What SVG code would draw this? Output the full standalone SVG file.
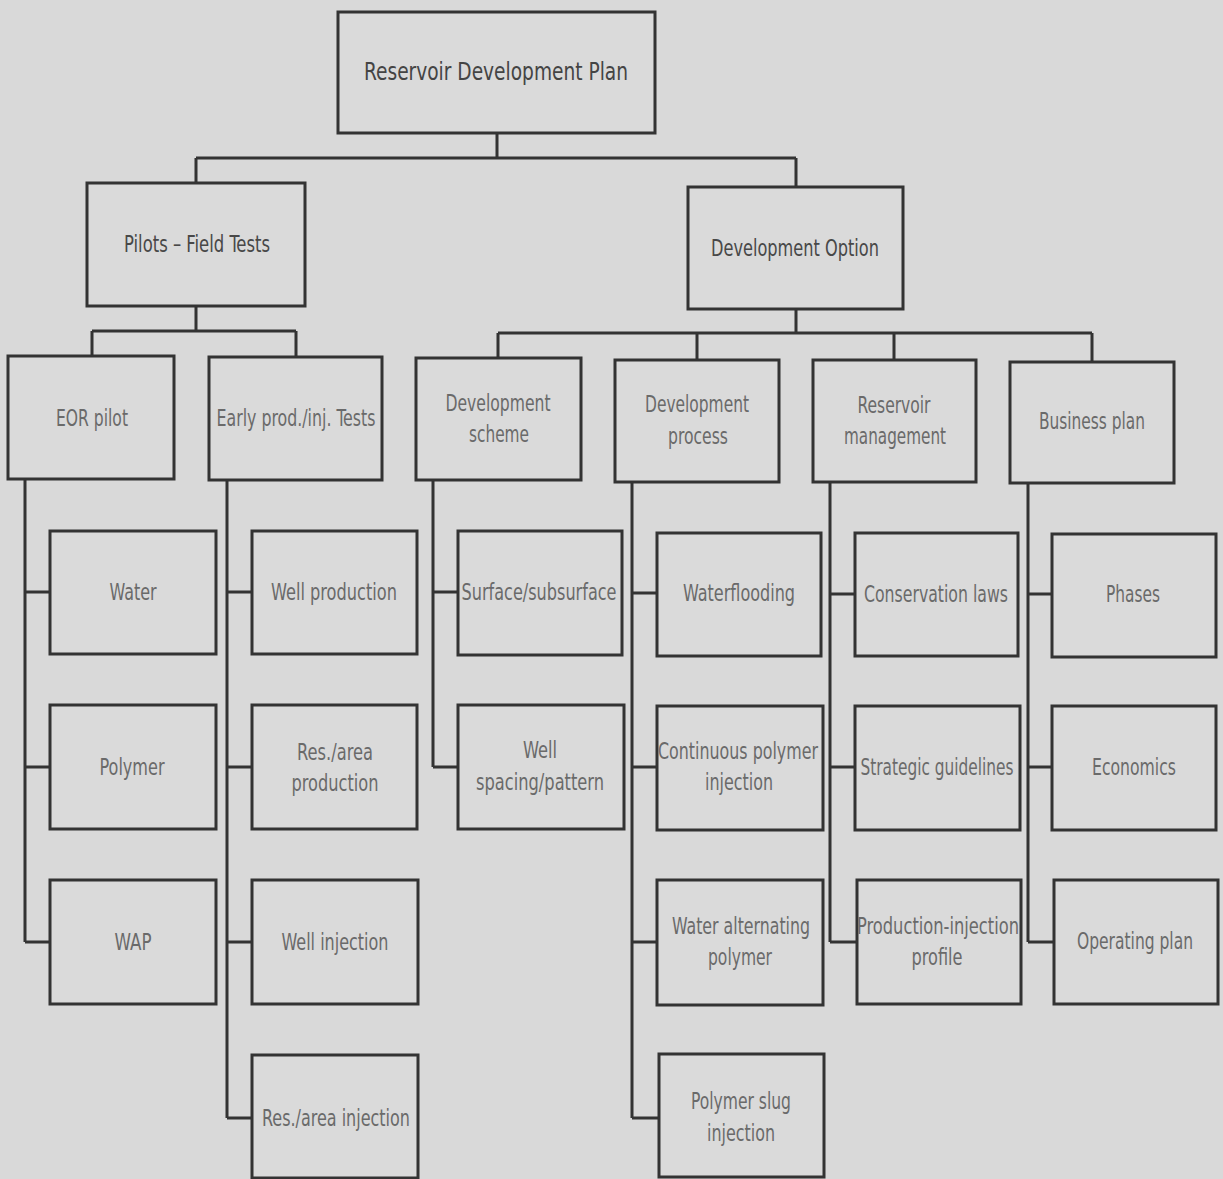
<svg xmlns="http://www.w3.org/2000/svg" width="1223" height="1179" viewBox="0 0 1223 1179">
<style>
.bg{fill:#d9d9d9}
.box{fill:#dadada;stroke:#333;stroke-width:3}
.conn{fill:none;stroke:#333;stroke-width:3}
text{font-family:"DejaVu Sans Condensed","Liberation Sans Narrow","Liberation Sans",sans-serif;font-size:23px;fill:#6a6a6a;text-anchor:middle;dominant-baseline:central}
.top{fill:#444;font-size:24px}
.l1{fill:#484848;font-size:23px}
</style>
<rect class="bg" x="0" y="0" width="1223" height="1179"/>
<g id="connectors">
<path class="conn" d="M497 133V158M196 158H796M196 158V183M796 158V187"/>
<path class="conn" d="M196 306V331M92 331H296M92 331V357M296 331V357"/>
<path class="conn" d="M796 309V333M498 333H1092M498 333V358M697 333V360M894 333V360M1092 333V362"/>
<path class="conn" d="M25 479V942M25 592H50M25 767H50M25 942H50"/>
<path class="conn" d="M227 480V1118M227 592H252M227 767H252M227 942H252M227 1118H252"/>
<path class="conn" d="M433 480V767M433 592H458M433 767H458"/>
<path class="conn" d="M632 482V1118M632 593H657M632 767H657M632 942H657M632 1118H659"/>
<path class="conn" d="M830 482V942M830 594H855M830 767H855M830 942H857"/>
<path class="conn" d="M1028 483V942M1028 594H1052M1028 767H1052M1028 942H1054"/>
</g>
<g id="root"><rect class="box" x="338" y="12" width="317" height="121"/><text class="top" x="496" y="72" textLength="264" lengthAdjust="spacingAndGlyphs">Reservoir Development Plan</text></g>
<g id="pilots"><rect class="box" x="87" y="183" width="218" height="123"/><text class="l1" x="197" y="244" textLength="146" lengthAdjust="spacingAndGlyphs">Pilots – Field Tests</text></g>
<g id="devoption"><rect class="box" x="688" y="187" width="215" height="122"/><text class="l1" x="795" y="248" textLength="168" lengthAdjust="spacingAndGlyphs">Development Option</text></g>
<g id="eor"><rect class="box" x="8" y="356" width="166" height="123"/><text x="92" y="418" textLength="72" lengthAdjust="spacingAndGlyphs">EOR pilot</text></g>
<g id="early"><rect class="box" x="209" y="357" width="173" height="123"/><text x="296" y="418" textLength="159" lengthAdjust="spacingAndGlyphs">Early prod./inj. Tests</text></g>
<g id="devscheme"><rect class="box" x="416" y="358" width="165" height="122"/><text x="498" y="403" textLength="105" lengthAdjust="spacingAndGlyphs">Development</text><text x="499" y="434" textLength="60" lengthAdjust="spacingAndGlyphs">scheme</text></g>
<g id="devprocess"><rect class="box" x="615" y="360" width="164" height="122"/><text x="697" y="404" textLength="104" lengthAdjust="spacingAndGlyphs">Development</text><text x="698" y="436" textLength="60" lengthAdjust="spacingAndGlyphs">process</text></g>
<g id="resmgmt"><rect class="box" x="813" y="360" width="163" height="122"/><text x="894" y="405" textLength="73" lengthAdjust="spacingAndGlyphs">Reservoir</text><text x="895" y="436" textLength="102" lengthAdjust="spacingAndGlyphs">management</text></g>
<g id="business"><rect class="box" x="1010" y="362" width="164" height="121"/><text x="1092" y="421" textLength="106" lengthAdjust="spacingAndGlyphs">Business plan</text></g>
<g id="water"><rect class="box" x="50" y="531" width="166" height="123"/><text x="133" y="592" textLength="47" lengthAdjust="spacingAndGlyphs">Water</text></g>
<g id="polymer"><rect class="box" x="50" y="705" width="166" height="124"/><text x="132" y="767" textLength="65" lengthAdjust="spacingAndGlyphs">Polymer</text></g>
<g id="wap"><rect class="box" x="50" y="880" width="166" height="124"/><text x="133" y="942" textLength="37" lengthAdjust="spacingAndGlyphs">WAP</text></g>
<g id="wellprod"><rect class="box" x="252" y="531" width="165" height="123"/><text x="334" y="592" textLength="126" lengthAdjust="spacingAndGlyphs">Well production</text></g>
<g id="resareaprod"><rect class="box" x="252" y="705" width="165" height="124"/><text x="335" y="752" textLength="76" lengthAdjust="spacingAndGlyphs">Res./area</text><text x="335" y="783" textLength="87" lengthAdjust="spacingAndGlyphs">production</text></g>
<g id="wellinj"><rect class="box" x="252" y="880" width="166" height="124"/><text x="335" y="942" textLength="107" lengthAdjust="spacingAndGlyphs">Well injection</text></g>
<g id="resareainj"><rect class="box" x="252" y="1055" width="166" height="123"/><text x="336" y="1118" textLength="148" lengthAdjust="spacingAndGlyphs">Res./area injection</text></g>
<g id="surface"><rect class="box" x="458" y="531" width="164" height="124"/><text x="539" y="592" textLength="155" lengthAdjust="spacingAndGlyphs">Surface/subsurface</text></g>
<g id="wellspacing"><rect class="box" x="458" y="705" width="166" height="124"/><text x="540" y="750" textLength="34" lengthAdjust="spacingAndGlyphs">Well</text><text x="540" y="782" textLength="128" lengthAdjust="spacingAndGlyphs">spacing/pattern</text></g>
<g id="waterflooding"><rect class="box" x="657" y="533" width="164" height="123"/><text x="739" y="593" textLength="112" lengthAdjust="spacingAndGlyphs">Waterflooding</text></g>
<g id="contpoly"><rect class="box" x="657" y="706" width="166" height="124"/><text x="738" y="751" textLength="160" lengthAdjust="spacingAndGlyphs">Continuous polymer</text><text x="739" y="782" textLength="68" lengthAdjust="spacingAndGlyphs">injection</text></g>
<g id="wateralt"><rect class="box" x="657" y="880" width="166" height="125"/><text x="741" y="926" textLength="138" lengthAdjust="spacingAndGlyphs">Water alternating</text><text x="740" y="957" textLength="64" lengthAdjust="spacingAndGlyphs">polymer</text></g>
<g id="polyslug"><rect class="box" x="659" y="1054" width="165" height="123"/><text x="741" y="1101" textLength="100" lengthAdjust="spacingAndGlyphs">Polymer slug</text><text x="741" y="1133" textLength="68" lengthAdjust="spacingAndGlyphs">injection</text></g>
<g id="conservation"><rect class="box" x="855" y="533" width="163" height="123"/><text x="936" y="594" textLength="144" lengthAdjust="spacingAndGlyphs">Conservation laws</text></g>
<g id="strategic"><rect class="box" x="855" y="706" width="165" height="124"/><text x="937" y="767" textLength="153" lengthAdjust="spacingAndGlyphs">Strategic guidelines</text></g>
<g id="prodinj"><rect class="box" x="857" y="880" width="164" height="124"/><text x="938" y="926" textLength="162" lengthAdjust="spacingAndGlyphs">Production-injection</text><text x="937" y="957" textLength="51" lengthAdjust="spacingAndGlyphs">profile</text></g>
<g id="phases"><rect class="box" x="1052" y="534" width="164" height="123"/><text x="1133" y="594" textLength="54" lengthAdjust="spacingAndGlyphs">Phases</text></g>
<g id="economics"><rect class="box" x="1052" y="706" width="164" height="124"/><text x="1134" y="767" textLength="84" lengthAdjust="spacingAndGlyphs">Economics</text></g>
<g id="operating"><rect class="box" x="1054" y="880" width="164" height="124"/><text x="1135" y="941" textLength="116" lengthAdjust="spacingAndGlyphs">Operating plan</text></g>
</svg>
